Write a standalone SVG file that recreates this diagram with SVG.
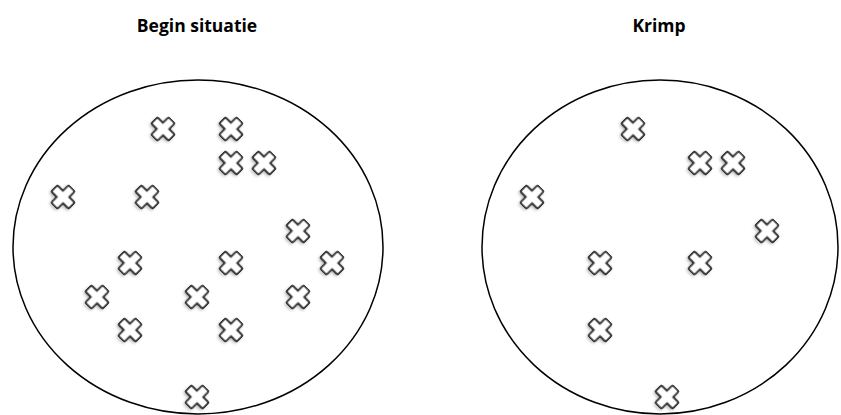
<svg xmlns="http://www.w3.org/2000/svg" width="841" height="415" viewBox="0 0 841 415">
<style>
.title{font-family:"Open Sans","Liberation Sans",sans-serif;font-weight:bold;font-size:17.5px;fill:#000;text-anchor:middle}
.ring{fill:none;stroke:#000;stroke-width:1.5}
.x{fill:#fff;stroke:#000;stroke-width:1.6;filter:url(#sh)}
</style>
<defs>
<filter id="sh" x="-40%" y="-40%" width="180%" height="180%">
<feGaussianBlur in="SourceAlpha" stdDeviation="1.5"/>
<feOffset dx="0" dy="2" result="b"/>
<feComponentTransfer><feFuncA type="linear" slope="0.25"/></feComponentTransfer>
<feMerge><feMergeNode/><feMergeNode in="SourceGraphic"/></feMerge>
</filter>
<path id="cx" class="x" transform="rotate(45)" d="M-4.4,-11 Q-4.4,-12.2 -3.2,-12.2 L3.2,-12.2 Q4.4,-12.2 4.4,-11 L4.4,-4.4 L11,-4.4 Q12.2,-4.4 12.2,-3.2 L12.2,3.2 Q12.2,4.4 11,4.4 L4.4,4.4 L4.4,11 Q4.4,12.2 3.2,12.2 L-3.2,12.2 Q-4.4,12.2 -4.4,11 L-4.4,4.4 L-11,4.4 Q-12.2,4.4 -12.2,3.2 L-12.2,-3.2 Q-12.2,-4.4 -11,-4.4 L-4.4,-4.4 Z"/>
</defs>
<g id="left">
<text class="title" x="197" y="32">Begin situatie</text>
<ellipse class="ring" cx="198" cy="247" rx="185" ry="167"/>
<use href="#cx" x="163" y="129"/>
<use href="#cx" x="231" y="129"/>
<use href="#cx" x="231" y="163"/>
<use href="#cx" x="264" y="163"/>
<use href="#cx" x="63" y="197"/>
<use href="#cx" x="147" y="197"/>
<use href="#cx" x="298" y="231"/>
<use href="#cx" x="130" y="263"/>
<use href="#cx" x="231" y="263"/>
<use href="#cx" x="332" y="263"/>
<use href="#cx" x="97" y="297"/>
<use href="#cx" x="197" y="297"/>
<use href="#cx" x="298" y="297"/>
<use href="#cx" x="130" y="330"/>
<use href="#cx" x="231" y="330"/>
<use href="#cx" x="197" y="397"/>
</g>
<g id="right">
<text class="title" x="659" y="32">Krimp</text>
<ellipse class="ring" cx="660" cy="247" rx="178" ry="167"/>
<use href="#cx" x="633" y="129"/>
<use href="#cx" x="700" y="163"/>
<use href="#cx" x="733" y="163"/>
<use href="#cx" x="532" y="197"/>
<use href="#cx" x="767" y="231"/>
<use href="#cx" x="600" y="263"/>
<use href="#cx" x="700" y="263"/>
<use href="#cx" x="600" y="330"/>
<use href="#cx" x="667" y="397"/>
</g>
</svg>
